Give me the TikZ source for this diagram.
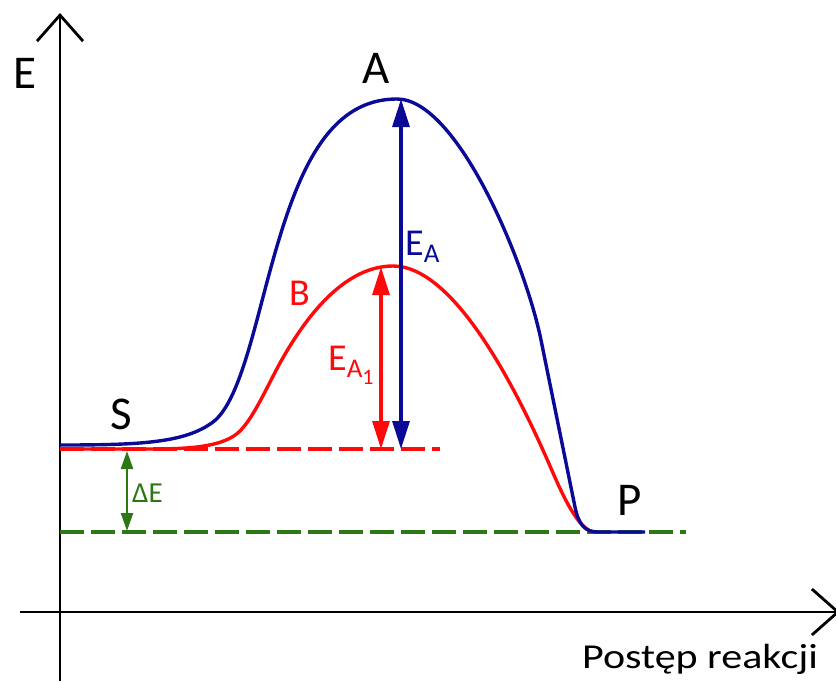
\documentclass[tikz,border=0pt]{standalone}
\usepackage{fontspec}
\setmainfont{Carlito}
\usetikzlibrary{arrows.meta}
\definecolor{cblue}{RGB}{10,10,150}
\definecolor{cred}{RGB}{255,10,10}
\definecolor{cgreen}{RGB}{45,120,20}
\begin{document}
\begin{tikzpicture}[x=1pt,y=-1pt,
  axis/.style={line width=2.8pt,black,-{Straight Barb[length=26pt,width=46pt,line width=2.8pt]}},
  curve/.style={line width=3.4pt,line join=round},
  dashline/.style={line width=3.2pt,dash pattern=on 24pt off 7pt},
  dim/.style={line width=3.2pt,{Triangle[length=28pt,width=17pt]}-{Triangle[length=28pt,width=17pt]}},
  smalldim/.style={line width=2.4pt,{Triangle[length=18pt,width=12pt]}-{Triangle[length=18pt,width=12pt]}},
  big/.style={font=\fontsize{47}{50}\selectfont,inner sep=0pt,anchor=base west},
  mid/.style={font=\fontsize{38}{40}\selectfont,inner sep=0pt,anchor=base west},
  small/.style={font=\fontsize{29}{30}\selectfont,inner sep=0pt,anchor=base west}]
\useasboundingbox (0,0) rectangle (836,681);
\fill[white] (0,0) rectangle (836,681);
% axes
\coordinate (yb) at (60,681);
\coordinate (yt) at (60,13);
\coordinate (xl) at (20,612);
\coordinate (xr) at (840,612);
\draw[axis] (yb) -- (yt);
\draw[axis] (xl) -- (xr);
% dashed reference lines
\coordinate (rd1) at (60,449);
\coordinate (rd2) at (440,449);
\coordinate (gd1) at (60,532);
\coordinate (gd2) at (686,532);
\draw[dashline,cgreen] (gd1) -- (gd2);
\draw[dashline,cred] (rd1) -- (rd2);
% red curve B
\draw[curve,cred] (60,449) -- (150,449)
  .. controls (192,449) and (224.4,446.6) .. (240,431)
  .. controls (254.1,416.9) and (267.9,384.9) .. (280,363)
  .. controls (304.3,319.3) and (343,266) .. (393,266)
  .. controls (453,266) and (514.1,383.5) .. (550,466)
  .. controls (560,488.9) and (578,532) .. (595,532);
% blue curve A
\draw[curve,cblue] (60,445)
  .. controls (140,445) and (185,443) .. (213,422)
  .. controls (237,404) and (251.5,340) .. (267,282)
  .. controls (292.8,185.4) and (322,99) .. (397,99)
  .. controls (457,99) and (525,261.6) .. (541,340)
  -- (575,507)
  .. controls (578.6,524.6) and (585,532) .. (598,532)
  -- (645,532);
% arrows
\coordinate (ea1t) at (381,267);
\coordinate (ea1b) at (381,449);
\coordinate (eat) at (401,99);
\coordinate (eab) at (401,449);
\coordinate (det) at (127,451);
\coordinate (deb) at (127,531);
\draw[dim,cred] (ea1b) -- (ea1t);
\draw[dim,cblue] (eab) -- (eat);
\draw[smalldim,cgreen] (det) -- (deb);
% labels
\node[big] (lE) at (13,88) {E};
\node[big] (lA) at (362,83) {A};
\node[big] (lS) at (110,429) {S};
\node[big] (lP) at (617,515) {P};
\node[mid,text=cred] (lB) at (289,305) {B};
\node[mid,text=cblue] (lEA) at (405,255) {E\raisebox{-0.2em}{\fontsize{27}{28}\selectfont A}};
\node[mid,text=cred] (lEA1) at (328,370) {E\raisebox{-0.2em}{\fontsize{27}{28}\selectfont A\raisebox{-0.25em}{\fontsize{22}{23}\selectfont 1}}};
\node[small,text=cgreen] (lDE) at (132,502) {ΔE};
\node[font=\fontsize{35}{37}\selectfont,inner sep=0pt,anchor=base west] (lX) at (582,668) {\scalebox{1.2}[1]{Postęp reakcji}};
\end{tikzpicture}
\end{document}
